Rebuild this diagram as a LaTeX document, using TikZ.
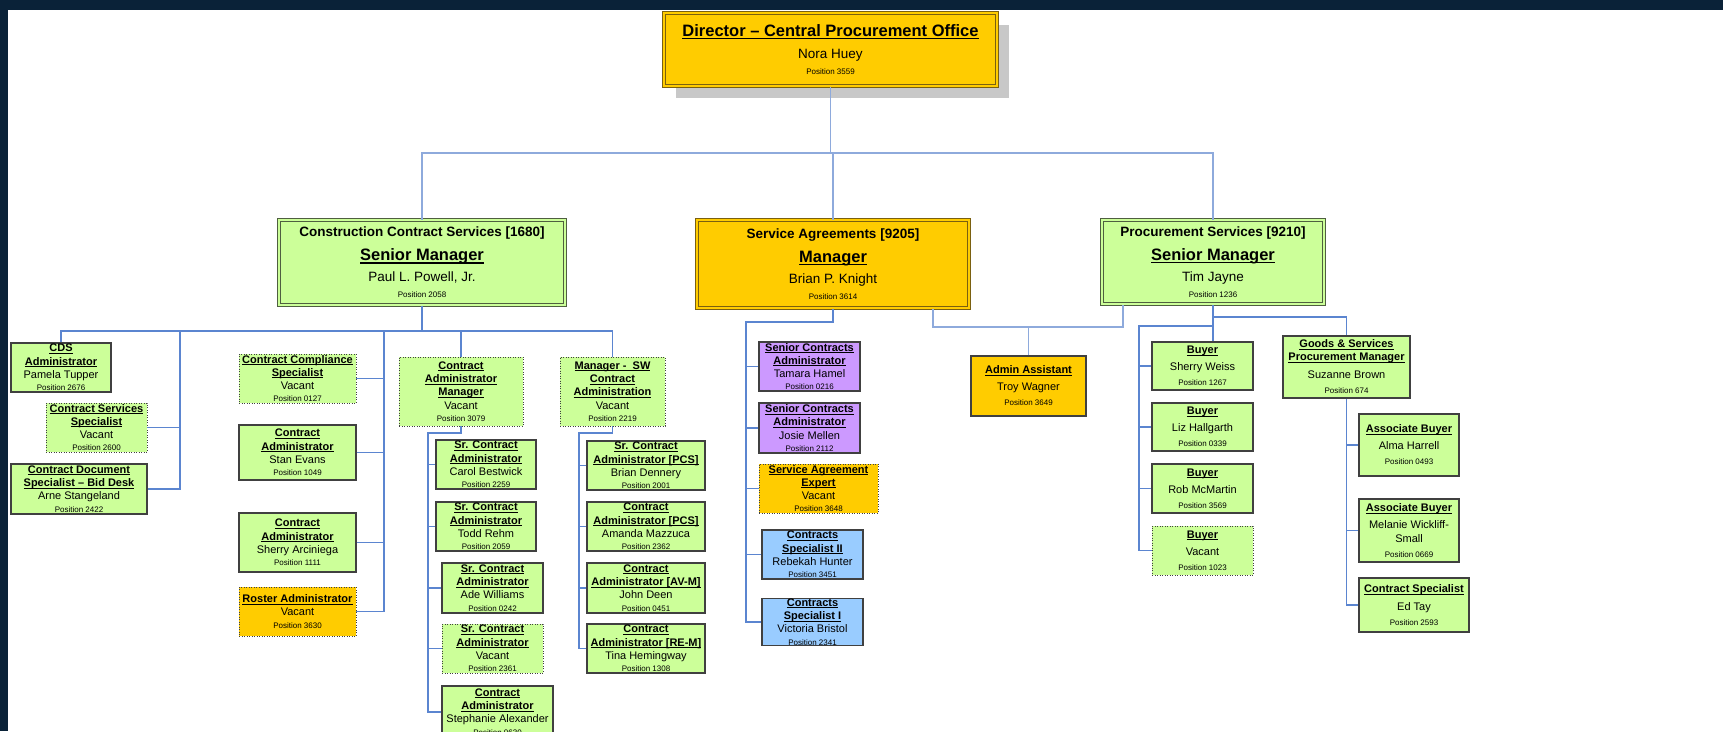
\documentclass[tikz,border=0pt]{standalone}
\usepackage{fontspec}
\setmainfont{Liberation Sans}
\usetikzlibrary{calc,shadows}
\definecolor{cgreen}{HTML}{CCFF99}
\definecolor{cgold}{HTML}{FFCC00}
\definecolor{cpurple}{HTML}{CC99FF}
\definecolor{cblue}{HTML}{99CCFF}
\definecolor{boxgray}{HTML}{404040}
\definecolor{goldedge}{HTML}{7A6010}
\definecolor{greenedge}{HTML}{4F5F40}
\definecolor{linedark}{HTML}{5B85D0}
\definecolor{linelight}{HTML}{8EAADC}
\definecolor{navybg}{HTML}{0A2238}
\definecolor{shadowgray}{HTML}{C8C8C8}
\newcommand{\myul}[1]{\setbox0\hbox{#1}\rlap{\rule[-0.17em]{\wd0}{0.075em}}\box0}
\newcommand{\ttl}[1]{\textbf{\myul{#1}}}
\newcommand{\posn}[1]{{\fontsize{8}{10}\selectfont #1}}
\newcommand{\bigttl}[1]{{\fontsize{16.5}{20}\selectfont\bfseries\myul{#1}}}
\tikzset{
  bx/.style={rectangle, inner sep=0pt, align=center, line width=1.1pt, draw=boxgray, font=\fontsize{11}{13.3}\selectfont},
  gbox/.style={bx, fill=cgreen},
  gdot/.style={bx, fill=cgreen, line width=0.9pt, dash pattern=on 0.9pt off 1.6pt},
  odot/.style={bx, fill=cgold, line width=0.9pt, dash pattern=on 0.9pt off 1.6pt},
  obox/.style={bx, fill=cgold},
  boxpurple/.style={bx, fill=cpurple},
  boxblue/.style={bx, fill=cblue},
  tall/.style={font=\fontsize{11}{17}\selectfont},
  topbox/.style={rectangle, inner sep=0pt, align=center, line width=1pt, double distance=2pt, font=\fontsize{13.5}{20}\selectfont},
  topgreen/.style={topbox, draw=greenedge, double=cgreen, fill=cgreen},
  topgold/.style={topbox, draw=goldedge, double=cgold, fill=cgold},
  ln/.style={draw=linedark, line width=1.3pt},
  lnlight/.style={draw=linelight, line width=1.1pt},
}
\begin{document}
\begin{tikzpicture}[x=1pt,y=-1pt]
\useasboundingbox (0,0) rectangle (1723,731);
\clip (0,0) rectangle (1723,731);
\fill[navybg] (0,0) rectangle (1723,731);
\fill[white] (8,10) rectangle (1723,731);

% bus coordinates
\coordinate (bus0) at (0,153);
\coordinate (bus1) at (0,331);
\coordinate (v1) at (180,0);
\coordinate (v2) at (384,0);
\coordinate (v3) at (428,0);
\coordinate (b3) at (0,433);
\coordinate (v4) at (579,0);
\coordinate (v5) at (746,0);
\coordinate (b5) at (0,322);
\coordinate (b6) at (0,327);
\coordinate (b7) at (0,326);
\coordinate (v7) at (1139,0);
\coordinate (b8) at (0,317);

% top level
\node[topgold, minimum width=333, minimum height=73,
      drop shadow={shadow xshift=12pt, shadow yshift=-12pt, fill=shadowgray, opacity=1}] (dir) at (830.5,49.5)
 {\bigttl{Director \textendash{} Central Procurement Office}\\[2pt]
  Nora Huey\\[-3.9pt]
  \posn{Position 3559}};
\node[topgreen, minimum width=286, minimum height=85] (ccs) at (422,262.5)
 {\textbf{Construction Contract Services [1680]}\\[4pt]
  \bigttl{Senior Manager}\\[1pt]
  Paul L. Powell, Jr.\\[-3.9pt]
  \posn{Position 2058}};
\node[topgold, minimum width=272, minimum height=88] (sa) at (833,264)
 {\textbf{Service Agreements [9205]}\\[4pt]
  \bigttl{Manager}\\[1pt]
  Brian P. Knight\\[-3.9pt]
  \posn{Position 3614}};
\node[topgreen, minimum width=222, minimum height=84] (ps) at (1213,262)
 {\textbf{Procurement Services [9210]}\\[4pt]
  \bigttl{Senior Manager}\\[1pt]
  Tim Jayne\\[-3.9pt]
  \posn{Position 1236}};

% Construction Contract Services staff
\node[gbox, minimum width=100, minimum height=49] (cds) at (61,367.5)
 {\ttl{CDS}\\\ttl{Administrator}\\Pamela Tupper\\[-1pt]\posn{Position 2676}};
\node[gdot, minimum width=101, minimum height=49] (css) at (96.5,427.5)
 {\ttl{Contract Services}\\\ttl{Specialist}\\Vacant\\[-1pt]\posn{Position 2600}};
\node[gbox, minimum width=136, minimum height=50] (cdsb) at (79,489)
 {\ttl{Contract Document}\\\ttl{Specialist \textendash{} Bid Desk}\\Arne Stangeland\\[-1pt]\posn{Position 2422}};
\node[gdot, minimum width=117, minimum height=49] (ccsp) at (297.5,378.5)
 {\ttl{Contract Compliance}\\\ttl{Specialist}\\Vacant\\[-1pt]\posn{Position 0127}};
\node[gbox, minimum width=117, minimum height=55] (caev) at (297.5,452.5)
 {\ttl{Contract}\\\ttl{Administrator}\\Stan Evans\\[-1pt]\posn{Position 1049}};
\node[gbox, minimum width=117, minimum height=59] (caar) at (297.5,542.5)
 {\ttl{Contract}\\\ttl{Administrator}\\Sherry Arciniega\\[-1pt]\posn{Position 1111}};
\node[odot, minimum width=117, minimum height=49] (roster) at (297.5,611.5)
 {\ttl{Roster Administrator}\\Vacant\\[-1pt]\posn{Position 3630}};
\node[gdot, minimum width=124, minimum height=69] (cam) at (461,391.5)
 {\ttl{Contract}\\\ttl{Administrator}\\\ttl{Manager}\\Vacant\\[-1pt]\posn{Position 3079}};
\node[gdot, minimum width=105, minimum height=69] (msw) at (612.5,391.5)
 {\ttl{Manager -~~SW}\\\ttl{Contract}\\\ttl{Administration}\\Vacant\\[-1pt]\posn{Position 2219}};

\node[gbox, minimum width=100, minimum height=49] (scab) at (486,464.5)
 {\ttl{Sr. Contract}\\\ttl{Administrator}\\Carol Bestwick\\[-1pt]\posn{Position 2259}};
\node[gbox, minimum width=100, minimum height=49] (scar) at (486,526.5)
 {\ttl{Sr. Contract}\\\ttl{Administrator}\\Todd Rehm\\[-1pt]\posn{Position 2059}};
\node[gbox, minimum width=101, minimum height=50] (scaw) at (492.5,588)
 {\ttl{Sr. Contract}\\\ttl{Administrator}\\Ade Williams\\[-1pt]\posn{Position 0242}};
\node[gdot, minimum width=101, minimum height=49] (scav) at (492.5,648.5)
 {\ttl{Sr. Contract}\\\ttl{Administrator}\\Vacant\\[-1pt]\posn{Position 2361}};
\node[gbox, minimum width=111, minimum height=52] (caal) at (497.5,712)
 {\ttl{Contract}\\\ttl{Administrator}\\Stephanie Alexander\\[-1pt]\posn{Position 0630}};

\node[gbox, minimum width=118, minimum height=49] (pcs1) at (646,465.5)
 {\ttl{Sr. Contract}\\\ttl{Administrator [PCS]}\\Brian Dennery\\[-1pt]\posn{Position 2001}};
\node[gbox, minimum width=118, minimum height=49] (pcs2) at (646,526.5)
 {\ttl{Contract}\\\ttl{Administrator [PCS]}\\Amanda Mazzuca\\[-1pt]\posn{Position 2362}};
\node[gbox, minimum width=118, minimum height=50] (avm) at (646,588)
 {\ttl{Contract}\\\ttl{Administrator [AV-M]}\\John Deen\\[-1pt]\posn{Position 0451}};
\node[gbox, minimum width=118, minimum height=49] (rem) at (646,648.5)
 {\ttl{Contract}\\\ttl{Administrator [RE-M]}\\Tina Hemingway\\[-1pt]\posn{Position 1308}};

% Service Agreements staff
\node[boxpurple, minimum width=101, minimum height=49] (sch) at (809.5,366.5)
 {\ttl{Senior Contracts}\\\ttl{Administrator}\\Tamara Hamel\\[-1pt]\posn{Position 0216}};
\node[boxpurple, minimum width=101, minimum height=50] (scm) at (809.5,428)
 {\ttl{Senior Contracts}\\\ttl{Administrator}\\Josie Mellen\\[-1pt]\posn{Position 2112}};
\node[odot, minimum width=119, minimum height=49] (sae) at (818.5,488.5)
 {\ttl{Service Agreement}\\\ttl{Expert}\\Vacant\\[-1pt]\posn{Position 3648}};
\node[boxblue, minimum width=101, minimum height=49] (cs2) at (812.5,554.5)
 {\ttl{Contracts}\\\ttl{Specialist II}\\Rebekah Hunter\\[-1pt]\posn{Position 3451}};
\node[boxblue, minimum width=101, minimum height=46] (cs1) at (812.5,622)
 {\ttl{Contracts}\\\ttl{Specialist I}\\Victoria Bristol\\[-1pt]\posn{Position 2341}};

\node[obox, tall, minimum width=115, minimum height=60] (adm) at (1028.5,386)
 {\ttl{Admin Assistant}\\Troy Wagner\\[-2pt]\posn{Position 3649}};

% Procurement Services staff
\node[gbox, tall, minimum width=101, minimum height=48] (bw1) at (1202.5,366)
 {\ttl{Buyer}\\Sherry Weiss\\[-2pt]\posn{Position 1267}};
\node[gbox, tall, minimum width=101, minimum height=48] (bw2) at (1202.5,427)
 {\ttl{Buyer}\\Liz Hallgarth\\[-2pt]\posn{Position 0339}};
\node[gbox, tall, minimum width=101, minimum height=49] (bw3) at (1202.5,488.5)
 {\ttl{Buyer}\\Rob McMartin\\[-2pt]\posn{Position 3569}};
\node[gdot, tall, minimum width=101, minimum height=49] (bw4) at (1202.5,550.5)
 {\ttl{Buyer}\\Vacant\\[-2pt]\posn{Position 1023}};
\node[gbox, tall, minimum width=127, minimum height=62] (gsm) at (1346.5,367)
 {\ttl{Goods \& Services}\\[-4pt]\ttl{Procurement Manager}\\[1pt]Suzanne Brown\\[-2pt]\posn{Position 674}};
\node[gbox, tall, minimum width=100, minimum height=62] (ab1) at (1409,445)
 {\ttl{Associate Buyer}\\Alma Harrell\\[-2pt]\posn{Position 0493}};
\node[gbox, tall, minimum width=100, minimum height=63] (ab2) at (1409,530.5)
 {\ttl{Associate Buyer}\\Melanie Wickliff-\\[-3pt]Small\\[-2pt]\posn{Position 0669}};
\node[gbox, tall, minimum width=110, minimum height=54] (cspec) at (1414,605)
 {\ttl{Contract Specialist}\\[1pt]Ed Tay\\[-2pt]\posn{Position 2593}};

% connectors: top level
\draw[lnlight] (dir.south) -- (dir.south |- bus0);
\draw[lnlight] (ccs.north) -- (ccs.north |- bus0) -- (ps.north |- bus0) -- (ps.north);
\draw[lnlight] (sa.north) -- (sa.north |- bus0);

% CCS
\draw[ln] (ccs.south) -- (ccs.south |- bus1);
\draw[ln] (cds.north) -- (cds.north |- bus1) -- (msw.north |- bus1) -- (msw.north);
\draw[ln] (cam.north) -- (cam.north |- bus1);
\draw[ln] (v1 |- bus1) -- (v1 |- cdsb.east) -- (cdsb.east);
\draw[ln] (css.east) -- (v1 |- css.east);
\draw[ln] (v2 |- bus1) -- (v2 |- roster.east) -- (roster.east);
\draw[ln] (ccsp.east) -- (v2 |- ccsp.east);
\draw[ln] (caev.east) -- (v2 |- caev.east);
\draw[ln] (caar.east) -- (v2 |- caar.east);

\draw[ln] (cam.south) -- (cam.south |- b3) -- (v3 |- b3) -- (v3 |- caal.west) -- (caal.west);
\draw[ln] (v3 |- scab.west) -- (scab.west);
\draw[ln] (v3 |- scar.west) -- (scar.west);
\draw[ln] (v3 |- scaw.west) -- (scaw.west);
\draw[ln] (v3 |- scav.west) -- (scav.west);

\draw[ln] (msw.south) -- (msw.south |- b3) -- (v4 |- b3) -- (v4 |- rem.west) -- (rem.west);
\draw[ln] (v4 |- pcs1.west) -- (pcs1.west);
\draw[ln] (v4 |- pcs2.west) -- (pcs2.west);
\draw[ln] (v4 |- avm.west) -- (avm.west);

% SA
\draw[ln] (sa.south) -- (sa.south |- b5) -- (v5 |- b5) -- (v5 |- cs1.west) -- (cs1.west);
\draw[ln] (v5 |- sch.west) -- (sch.west);
\draw[ln] (v5 |- scm.west) -- (scm.west);
\draw[ln] (v5 |- sae.west) -- (sae.west);
\draw[ln] (v5 |- cs2.west) -- (cs2.west);

% Admin assistant
\coordinate (saR) at ([xshift=100pt]sa.south);
\coordinate (psL) at ([xshift=-90pt]ps.south);
\draw[lnlight] (saR) -- (saR |- b6) -- (psL |- b6) -- (psL);
\draw[lnlight] (adm.north) -- (adm.north |- b6);

% PS
\draw[ln] (ps.south) -- (ps.south |- bw1.north);
\draw[ln] (ps.south |- b7) -- (v7 |- b7) -- (v7 |- bw4.west) -- (bw4.west);
\draw[ln] (v7 |- bw1.west) -- (bw1.west);
\draw[ln] (v7 |- bw2.west) -- (bw2.west);
\draw[ln] (v7 |- bw3.west) -- (bw3.west);
\draw[ln] (ps.south |- b8) -- (gsm.north |- b8) -- (gsm.north);
\draw[ln] (gsm.south) -- (gsm.south |- cspec.west) -- (cspec.west);
\draw[ln] (gsm.south |- ab1.west) -- (ab1.west);
\draw[ln] (gsm.south |- ab2.west) -- (ab2.west);
\end{tikzpicture}
\end{document}
